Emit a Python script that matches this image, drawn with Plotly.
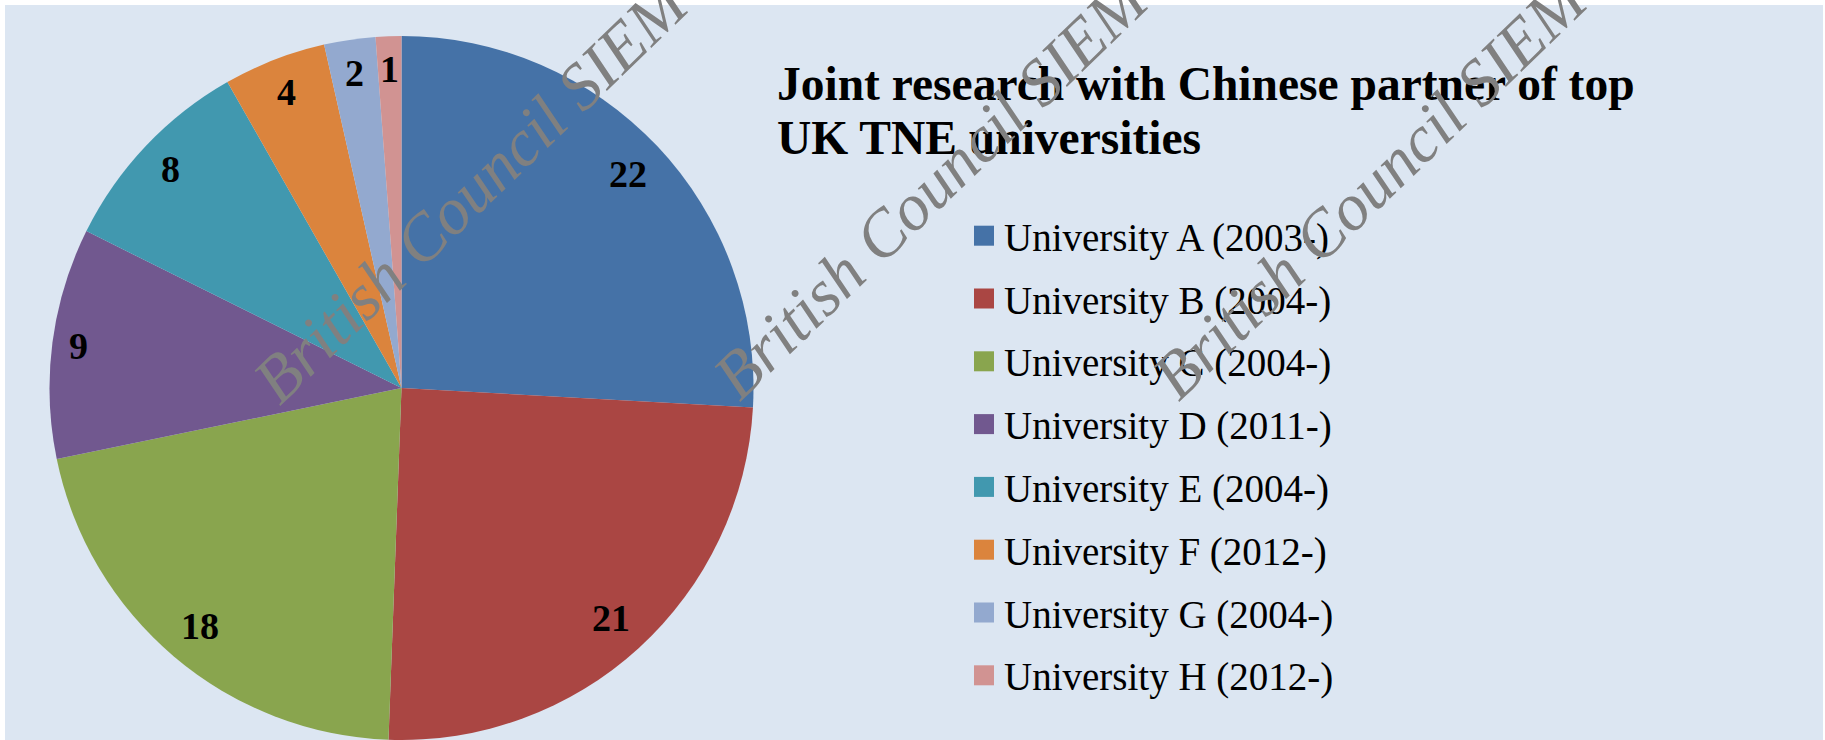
import math
import plotly.graph_objects as go

# ---- data ----
universities = ["University A (2003-)", "University B (2004-)", "University C (2004-)",
                "University D (2011-)", "University E (2004-)", "University F (2012-)",
                "University G (2004-)", "University H (2012-)"]
projects = [22, 21, 18, 9, 8, 4, 2, 1]
slice_colors = ["#4572A7", "#AA4643", "#89A54E", "#71588F",
                "#4198AF", "#DB843D", "#93A9CF", "#D19392"]
title_lines = ["Joint research with Chinese partner of top", "UK TNE universities"]
watermark = "British Council SIEM"

# ---- canvas geometry (pixels) ----
W, H = 1825, 740
cx, cy, R = 401.5, 388.0, 352.0          # pie centre and radius


def px(x):
    return min(max(x / W, 0.0), 1.0)


def py(y):
    return min(max(1 - y / H, 0.0), 1.0)


fig = go.Figure()

fig.add_trace(go.Pie(
    labels=universities,
    values=projects,
    sort=False,
    direction="clockwise",
    rotation=0,
    marker=dict(colors=slice_colors, line=dict(width=0)),
    textinfo="none",
    hoverinfo="label+value",
    showlegend=False,
    domain=dict(x=[px(cx - R), px(cx + R)], y=[py(cy + R), py(cy - R)]),
))

annotations = []

# value labels placed near the outer edge of each slice
label_font = dict(family="Liberation Serif", size=38, color="black")
total = sum(projects)
cum = 0
for v in projects:
    mid = (cum + v / 2) / total * 2 * math.pi
    cum += v
    s, c = math.sin(mid), math.cos(mid)
    w_txt, h_txt = 19 * len(str(v)), 34
    r_lab = R - 15 - (w_txt / 2 * abs(s) + h_txt / 2 * abs(c))
    lx, ly = cx + r_lab * s, cy - r_lab * c
    annotations.append(dict(
        x=px(lx), y=py(ly), xref="paper", yref="paper",
        text=f"<b>{v}</b>", showarrow=False, font=label_font,
        xanchor="center", yanchor="middle"))

# title, two lines
for line, top in zip(title_lines, [56, 110]):
    annotations.append(dict(
        x=px(775), y=py(top), xref="paper", yref="paper",
        text=f"<b>{line}</b>", showarrow=False, align="left",
        font=dict(family="Liberation Serif", size=47.5, color="black"),
        xanchor="left", yanchor="top"))

# legend: coloured squares with labels
shapes = [dict(type="rect", xref="paper", yref="paper",
               x0=px(5), x1=px(1823), y0=0, y1=py(5),
               fillcolor="#DCE6F2", line=dict(width=0), layer="below")]
leg_top, leg_step = 235.7, 62.8
for i, (name, col) in enumerate(zip(universities, slice_colors)):
    yc = leg_top + i * leg_step
    shapes.append(dict(type="rect", xref="paper", yref="paper",
                       x0=px(974), x1=px(994), y0=py(yc + 10), y1=py(yc - 10),
                       fillcolor=col, line=dict(width=0)))
    annotations.append(dict(
        x=px(1002), y=py(yc + 2), xref="paper", yref="paper",
        text=name, showarrow=False,
        font=dict(family="Liberation Serif", size=39, color="black"),
        xanchor="left", yanchor="middle"))

# diagonal watermarks
for wx, wy in [(471, 190), (931, 186), (1370, 186)]:
    annotations.append(dict(
        x=px(wx), y=py(wy), xref="paper", yref="paper",
        text=f"<i>{watermark}</i>", showarrow=False, textangle=-44,
        font=dict(family="Liberation Serif", size=66, color="#808080"),
        xanchor="center", yanchor="middle"))

fig.update_layout(
    width=W, height=H,
    margin=dict(l=0, r=0, t=0, b=0),
    paper_bgcolor="white",
    shapes=shapes,
    annotations=annotations,
    showlegend=False,
)

fig.write_html("out.html")
